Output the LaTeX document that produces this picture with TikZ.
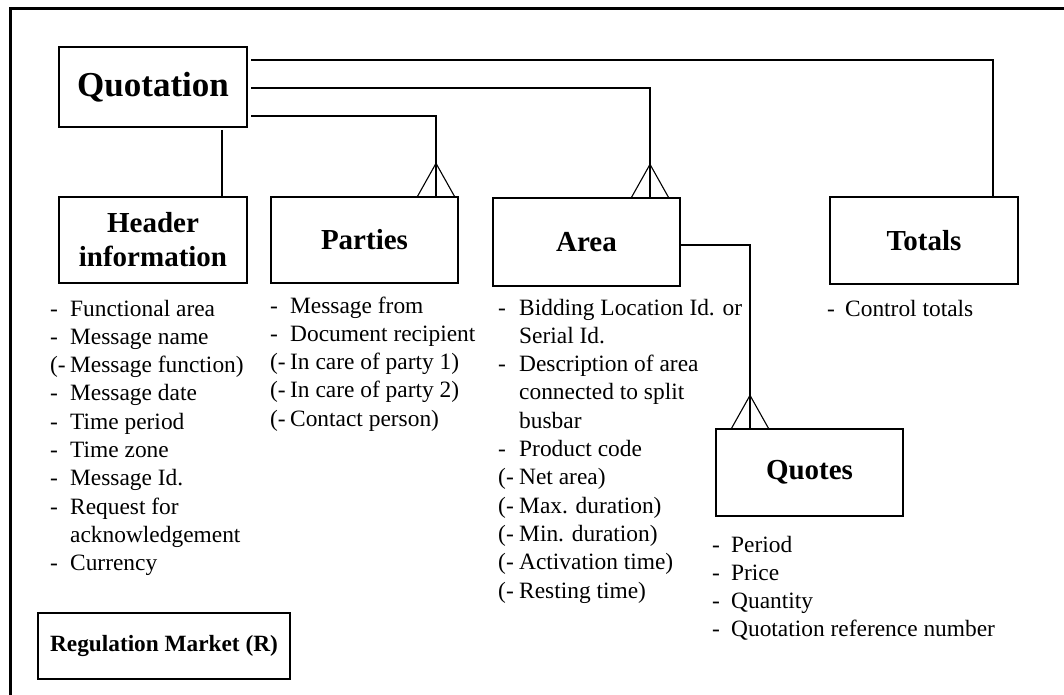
\documentclass[tikz,border=0pt]{standalone}
\usepackage{fontspec}
\setmainfont{Liberation Serif}
\usepackage{array}
\tikzset{
  ent/.style={draw, line width=1.3pt, inner sep=0pt, align=center,
    font=\fontsize{29}{34}\selectfont\bfseries},
  conn/.style={line width=1.1pt},
  lst/.style={anchor=base west, inner sep=0pt, font=\fontsize{23.4}{28.3}\selectfont},
  frame/.style={line width=3.5pt}
}
\newcommand\crowfoot[1]{\draw[conn] (#1) ++(-18.5,0) -- ++(18.5,-33) -- ++(18.5,33);}
\begin{document}
\begin{tikzpicture}[x=1pt,y=-1pt]
\useasboundingbox (0,0) rectangle (1064,695);
% frame (left and top only visible)
\draw[frame] (10.5,700) -- (10.5,8.5) -- (1070,8.5);

% entities
\node[ent, minimum width=188, minimum height=80, font=\fontsize{35}{40}\selectfont\bfseries] (quot) at (153,87) {Quotation};
\node[ent, minimum width=188, minimum height=86] (head) at (153,240) {Header\\information};
\node[ent, minimum width=187, minimum height=86] (part) at (364.5,240) {Parties};
\node[ent, minimum width=187, minimum height=88] (area) at (586.5,242) {Area};
\node[ent, minimum width=188, minimum height=87] (tot) at (924,240.5) {Totals};
\node[ent, minimum width=187, minimum height=87] (quotes) at (809.5,472.5) {Quotes};
\node[ent, minimum width=252, minimum height=66, font=\fontsize{23.3}{28}\selectfont\bfseries] (reg) at (164,646) {Regulation Market (R)};

% connection points
\coordinate (q1) at (251,60);
\coordinate (q2) at (251,88);
\coordinate (q3) at (251,116);
\coordinate (q4) at (222,130);
\coordinate (headin) at ([xshift=69pt]head.north);
\coordinate (partin) at ([xshift=71.5pt]part.north);
\coordinate (areain) at ([xshift=63.5pt]area.north);
\coordinate (totin) at ([xshift=69pt]tot.north);
\coordinate (quotin) at ([xshift=-59.5pt]quotes.north);

\draw[conn] (q1) -| (totin);
\draw[conn] (q2) -| (areain);
\draw[conn] (q3) -| (partin);
\draw[conn] (q4) -- (headin);
\draw[conn] ([yshift=-3pt]area.east) -| (quotin);
\crowfoot{partin}
\crowfoot{areain}
\crowfoot{quotin}

% attribute lists
\node[lst] (hlist) at (50,316) {\begin{tabular}[t]{@{}p{20pt}@{}l@{}}
- & Functional area\\
- & Message name\\
(- & Message function)\\
- & Message date\\
- & Time period\\
- & Time zone\\
- & Message Id.\\
- & Request for\\
 & acknowledgement\\
- & Currency
\end{tabular}};

\node[lst] (plist) at (270,313) {\begin{tabular}[t]{@{}p{20pt}@{}l@{}}
- & Message from\\
- & Document recipient\\
(- & In care of party 1)\\
(- & In care of party 2)\\
(- & Contact person)
\end{tabular}};

\node[lst] (alist) at (498,315) {\begin{tabular}[t]{@{}p{21pt}@{}l@{}}
- & Bidding Location Id. or\\
 & Serial Id.\\
- & Description of area\\
 & connected to split\\
 & busbar\\
- & Product code\\
(- & Net area)\\
(- & Max. duration)\\
(- & Min. duration)\\
(- & Activation time)\\
(- & Resting time)
\end{tabular}};

\node[lst] (tlist) at (827,316) {\begin{tabular}[t]{@{}p{18pt}@{}l@{}}
- & Control totals
\end{tabular}};

\node[lst] (qlist) at (712,552) {\begin{tabular}[t]{@{}p{19pt}@{}l@{}}
- & Period\\
- & Price\\
- & Quantity\\
- & Quotation reference number
\end{tabular}};
\end{tikzpicture}
\end{document}
